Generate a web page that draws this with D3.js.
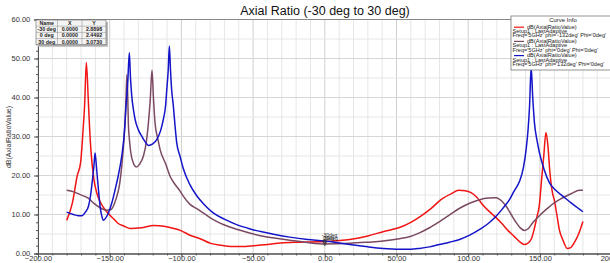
<!DOCTYPE html>
<html>
<head>
<meta charset="utf-8">
<script src="https://cdn.jsdelivr.net/npm/d3@7"></script>
<style>
  body { margin: 0; background: #fff; }
  svg { display: block; font-family: Arial, "Liberation Sans", sans-serif; }
</style>
</head>
<body>
<svg id="chart"></svg>
<script>
// series: [theta, dB]
let redPts = [[-180,8.5],[-176,13],[-172.6,20],[-170.3,23.3],[-168.5,32],[-167.5,38],[-166.3,49],[-165,40],[-164,32],[-163,26],
  [-161,19],[-159,15.5],[-156.3,13],[-151.6,10.5],[-147,8.8],[-144.7,7.9],[-140,7],[-135.4,6.4],[-128,6.6],[-119.3,7.2],
  [-112,7.0],[-107.5,6.6],[-100,5.8],[-93.5,4.6],[-87,3.8],[-79.6,2.6],[-72,2.1],[-65.6,1.8],[-58,1.8],[-49.5,2.0],
  [-40,2.3],[-30.7,2.7],[-17.4,2.9],[0,3.07],[17.4,3.6],[30,4.5],[40.6,5.6],[53,6.8],[60,8.0],[67,9.6],[74,11.5],[81,13.8],
  [88,15.3],[93.5,16.2],[98,16.1],[102,15.6],[106,14.4],[111,12.1],[117,10],[123,7.9],[128,5.8],[132,4.4],[136,3.0],
  [139,2.3],[141.5,2.6],[144,3.7],[146,6.2],[148,9.5],[149.5,12.1],[151.2,19],[152.7,25],[154.2,31],[155.5,28],[157,20.7],
  [158.8,15.5],[160,13.8],[161.8,10],[163.5,6.2],[166,3.5],[169,1.3],[171.5,1.5],[174,2.8],[177,5],[180,8.2]]

let mauvePts = [[-180,16.2],[-175,15.8],[-170.6,15.1],[-165,14.2],[-161.4,13],[-157,11.8],[-152,11.1],[-149,11.3],[-146.5,13],
  [-145,14.7],[-143,18],[-141.6,22.4],[-140.3,28],[-139.3,33.5],[-138.6,40],[-138,45.9],[-137.4,40],[-137,33.6],[-136.2,29],
  [-135.3,25.9],[-133.5,23.2],[-131.6,22.2],[-129,23],[-126.5,25],[-124.5,28.5],[-123,33.5],[-121.8,39],[-120.5,47],
  [-119.5,40],[-118.4,33.5],[-116.5,29.5],[-114.9,26.7],[-111,23],[-107.9,19.8],[-104,17.5],[-100.9,16],[-98.7,14.7],
  [-94,12.6],[-89.3,11.5],[-84,10.2],[-77.8,8.7],[-70,7.3],[-61.5,6.2],[-52,5.2],[-43,4.4],[-34,3.9],[-24.4,3.4],[-12,2.8],
  [0,2.45],[17.4,2.6],[30,2.9],[40.6,3.2],[52,3.8],[59,4.3],[66,5.3],[73,6.6],[80,8.2],[87,9.9],[94,11.6],[101,12.9],
  [108,13.8],[114,14.2],[119.6,14.3],[123,13.6],[126.5,12.1],[130,10],[133.5,7.9],[136.5,6.5],[139.3,5.9],[142,6.4],
  [145,7.9],[150,9.8],[154.4,11.3],[160,13],[166,14.3],[172,15.4],[177.6,16.2],[180,16.2]]

let bluePts = [[-180,10.6],[-175.3,10],[-172,9.7],[-169.4,9.7],[-167,10.6],[-164.8,12.1],[-163.3,15],[-162,19],[-161,22.5],
  [-160.2,25.8],[-159.3,22.5],[-158.5,19],[-157.5,15],[-156.7,12.1],[-155.5,9.6],[-154.4,8.5],[-153,9],[-150.9,10.4],
  [-148.5,13],[-146.2,16.4],[-144,20],[-141.6,25],[-140,30],[-138.6,37.8],[-137.4,44],[-136.3,51.5],[-135.5,45],
  [-134.6,40.3],[-133.5,37],[-132.3,34.4],[-130,31.7],[-127.7,30.1],[-125,28.5],[-123,27.7],[-120,28.1],[-117.2,29.2],
  [-114.5,31.5],[-112.6,34.4],[-111,38],[-110.2,42],[-109.2,47],[-108.4,53.2],[-107.6,47],[-106.8,42],[-105.6,37.8],
  [-104.5,33],[-103.3,28.5],[-101,25],[-98.7,21.8],[-94,17.6],[-89.3,14.8],[-84,12.5],[-77.8,10.4],[-70,8.8],[-61.5,7.4],
  [-52,6.3],[-43,5.5],[-34,4.8],[-24.4,4.2],[-12,3.6],[0,3.2],[10,2.7],[17.4,2.3],[30,1.7],[40.6,1.3],[52,1.1],[60,1.1],
  [66,1.3],[73,1.7],[80,2.3],[87,2.9],[94,3.6],[101,4.7],[108,6.2],[114,7.7],[119.6,9.6],[124,11.5],[128.8,13.8],[132,16],
  [135.8,18.5],[138.5,22],[140.4,26.7],[141.8,32],[142.8,37.8],[143.9,47.8],[145,40],[146.2,33.5],[148,29],[149.7,25.8],
  [153,21.5],[156.7,18.1],[161,16.2],[166,14.7],[172,12.9],[176,11.8],[180,10.7]]

let xTicks = [-200,-150,-100,-50,0,50,100,150,200]
let yTicks = [0,10,20,30,40,50,60]

let markerNames = ['-30 deg','0 deg','30 deg']
let markerX = [0,0,0]
let markerY = [2.8898,2.4492,3.0730]

let curveColors = ['#f01414','#7b4a62','#1414c8']
let curvePhi = ['-132deg','0deg','132deg']

let W = 610, H = 263
let svg = d3.select('#chart').attr('width', W).attr('height', H)

let x = d3.scaleLinear().domain([-200,200]).range([38,611.6])
let y = d3.scaleLinear().domain([0,60]).range([253.5,19.5])

// grid
let grid = svg.append('g')
grid.selectAll('.vg').data(d3.range(-200,201,10)).enter().append('line')
  .attr('x1', d => x(d)).attr('x2', d => x(d)).attr('y1', y(0)).attr('y2', y(60))
  .attr('stroke', d => d % 50 === 0 ? '#cfcfcf' : '#e6e6e6').attr('stroke-width', 1)
grid.selectAll('.hg').data(d3.range(0,61,5)).enter().append('line')
  .attr('x1', x(-200)).attr('x2', x(200)).attr('y1', d => y(d)).attr('y2', d => y(d))
  .attr('stroke', d => d % 10 === 0 ? '#d6d6d6' : '#e6e6e6').attr('stroke-width', 1)

// top border
svg.append('line').attr('x1', x(-200)).attr('x2', x(200)).attr('y1', y(60)).attr('y2', y(60))
  .attr('stroke', '#888')

// axes
let xAxis = svg.append('g').attr('transform', `translate(0,${y(0)})`)
  .call(d3.axisBottom(x).tickValues(xTicks).tickFormat(d3.format('.2f')).tickSize(4))
svg.append('g').attr('transform', `translate(0,${y(0)})`)
  .call(d3.axisBottom(x).tickValues(d3.range(-200,201,10)).tickFormat('').tickSize(2))
let yAxis = svg.append('g').attr('transform', `translate(${x(-200)},0)`)
  .call(d3.axisLeft(y).tickValues(yTicks).tickFormat(d3.format('.2f')).tickSize(4))
svg.append('g').attr('transform', `translate(${x(-200)},0)`)
  .call(d3.axisLeft(y).tickValues(d3.range(0,61,2)).tickFormat('').tickSize(2))
svg.selectAll('.domain').attr('stroke', '#555')
svg.selectAll('.tick line').attr('stroke', '#555')
xAxis.selectAll('text').attr('font-size', 7.5).attr('fill', '#333').attr('y', 2).attr('dy', '0.71em')
yAxis.selectAll('text').attr('font-size', 7.5).attr('fill', '#333').attr('dx', '-0.1em')

// titles
svg.append('text').attr('x', 325).attr('y', 15).attr('text-anchor', 'middle')
  .attr('font-size', 12.5).attr('fill', '#111').text('Axial Ratio (-30 deg to 30 deg)')
svg.append('text').attr('x', 325).attr('y', 269).attr('text-anchor', 'middle')
  .attr('font-size', 8).attr('fill', '#333').text('Theta [deg]')
svg.append('text').attr('transform', 'translate(11,137) rotate(-90)').attr('text-anchor', 'middle')
  .attr('font-size', 7).attr('fill', '#333').text('dB(AxialRatioValue)')

// curves
let line = d3.line().x(d => x(d[0])).y(d => y(d[1])).curve(d3.curveMonotoneX)
let series = [redPts, mauvePts, bluePts]
svg.append('g').selectAll('path').data(series).enter().append('path')
  .attr('d', line).attr('fill', 'none')
  .attr('stroke', (d,i) => curveColors[i]).attr('stroke-width', 1.5)

// marker labels at theta=0
let mk = svg.append('g')
mk.selectAll('text').data(markerNames).enter().append('text')
  .attr('x', (d,i) => x(markerX[i]) - 3 + i)
  .attr('y', (d,i) => y(markerY[i]) - 5 + i * 1.5)
  .attr('font-size', 5).attr('fill', '#222').text(d => d.replace(' ', ''))
mk.selectAll('path').data(markerNames).enter().append('path')
  .attr('d', d3.symbol(d3.symbolTriangle, 6))
  .attr('transform', (d,i) => `translate(${x(markerX[i])},${y(markerY[i])}) rotate(180)`)
  .attr('fill', 'none').attr('stroke', '#333').attr('stroke-width', 0.6)

// marker table
let tb = svg.append('g').attr('transform', 'translate(36,20)')
let colX = [0,21.5,46,70]
let rowH = 6.2
tb.append('rect').attr('x', 2).attr('y', 2).attr('width', 70).attr('height', rowH * 4)
  .attr('fill', '#bbb')
tb.append('rect').attr('width', 70).attr('height', rowH * 4).attr('fill', '#f4f4f4')
  .attr('stroke', '#666').attr('stroke-width', 0.6)
let rows = [['Name','X','Y']].concat(markerNames.map((n,i) => [n, d3.format('.4f')(markerX[i]), d3.format('.4f')(markerY[i])]))
rows.forEach((r,ri) => {
  r.forEach((c,ci) => {
    tb.append('text').attr('x', (colX[ci] + colX[ci+1]) / 2).attr('y', ri * rowH + 5)
      .attr('text-anchor', 'middle').attr('font-size', 5.3).attr('font-weight', 'bold')
      .attr('fill', '#222').text(c)
  })
  tb.append('line').attr('x1', 0).attr('x2', 70).attr('y1', (ri + 1) * rowH).attr('y2', (ri + 1) * rowH)
    .attr('stroke', '#888').attr('stroke-width', 0.5)
})
colX.slice(1,3).forEach(cx => {
  tb.append('line').attr('x1', cx).attr('x2', cx).attr('y1', 0).attr('y2', rowH * 4)
    .attr('stroke', '#888').attr('stroke-width', 0.5)
})

// curve info legend
let lg = svg.append('g').attr('transform', 'translate(511,16)')
lg.append('rect').attr('width', 104).attr('height', 54).attr('fill', '#fff')
  .attr('stroke', '#666').attr('stroke-width', 0.7)
lg.append('text').attr('x', 52).attr('y', 6).attr('text-anchor', 'middle')
  .attr('font-size', 6).attr('fill', '#222').text('Curve Info')
curveColors.forEach((c,i) => {
  let y0 = 13 + i * 14.2
  lg.append('line').attr('x1', 3).attr('x2', 13).attr('y1', y0 - 1.8).attr('y2', y0 - 1.8)
    .attr('stroke', c).attr('stroke-width', 1.2)
  lg.append('text').attr('x', 16).attr('y', y0).attr('font-size', 5.6).attr('fill', '#222')
    .text('dB(AxialRatioValue)')
  lg.append('text').attr('x', 1.5).attr('y', y0 + 4.2).attr('font-size', 5.6).attr('fill', '#222')
    .text('Setup1 : LastAdaptive')
  lg.append('text').attr('x', 1.5).attr('y', y0 + 8.4).attr('font-size', 5.6).attr('fill', '#222')
    .text(`Freq='5GHz' phi='${curvePhi[i]}' Phi='0deg'`)
})
</script>
</body>
</html>
